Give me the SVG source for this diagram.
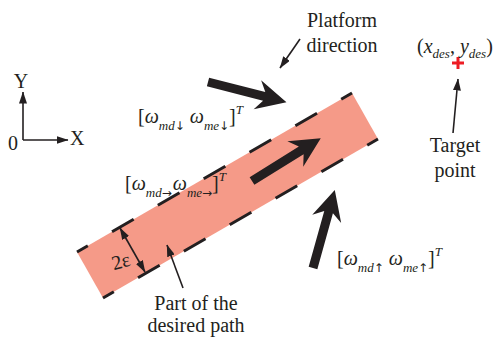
<svg xmlns="http://www.w3.org/2000/svg" xmlns:xlink="http://www.w3.org/1999/xlink" width="498" height="339" viewBox="0 0 498 339">
<style>
text{font-family:"Liberation Serif","Times New Roman",serif;fill:#231f20;font-size:20px}
.it{font-style:italic}
.sub{font-size:13px;font-style:italic}
.ar{font-size:12px;font-style:normal;font-family:"DejaVu Sans",sans-serif}
.thin{stroke:#231f20;stroke-width:1.6;fill:none}
.dash{stroke:#231f20;stroke-width:3;fill:none;stroke-dasharray:25 27.95;stroke-dashoffset:12.5}
</style>
<defs>
<marker id="ah" viewBox="0 0 12 8" markerWidth="12" markerHeight="8" refX="11.5" refY="4" markerUnits="userSpaceOnUse" orient="auto-start-reverse">
<path d="M0,0 L12,4 L0,8 z" fill="#231f20"/>
</marker>
<path id="big" d="M0,-4.5 L58,-4.5 L51,-15 L81,0 L51,15 L58,4.5 L0,4.5 z" fill="#231f20"/>
</defs>
<g id="path-band">
<polygon points="77,252 352,93 378,139 103,298" fill="#f59a88"/>
<line class="dash" x1="77" y1="252" x2="352" y2="93"/>
<line class="dash" x1="103" y1="298" x2="378" y2="139"/>
</g>
<g id="axes">
<line class="thin" x1="23" y1="140" x2="23" y2="92" marker-end="url(#ah)"/>
<line class="thin" x1="23" y1="140" x2="68" y2="140" marker-end="url(#ah)"/>
<text x="21" y="88" text-anchor="middle">Y</text>
<text x="70" y="145">X</text>
<text x="8" y="150">0</text>
</g>
<g id="target">
<path d="M452,63 H464 M458,57 V69" stroke="#ed1c24" stroke-width="3"/>
<text x="417" y="53">(<tspan class="it">x</tspan><tspan class="sub" dy="5">des</tspan><tspan dy="-5">, </tspan><tspan class="it">y</tspan><tspan class="sub" dy="5">des</tspan><tspan dy="-5">)</tspan></text>
<text x="455" y="152" text-anchor="middle">Target</text>
<text x="455" y="177" text-anchor="middle">point</text>
</g>
<g id="platform-label">
<text x="342" y="27" text-anchor="middle">Platform</text>
<text x="342" y="52" text-anchor="middle">direction</text>
</g>
<g id="path-label">
<text x="196" y="310" text-anchor="middle">Part of the</text>
<text x="196" y="332" text-anchor="middle">desired path</text>
</g>
<g id="eps-label">
<text x="121" y="268" text-anchor="middle" font-size="19" transform="rotate(-15 121 262)">2ε</text>
</g>
<g id="arrow-down">
<use xlink:href="#big" transform="translate(208,82) rotate(14.4)"/>
<text x="138" y="123">[<tspan class="it">ω</tspan><tspan class="sub" dy="7">md<tspan class="ar">↓</tspan></tspan><tspan dy="-7"> </tspan><tspan class="it">ω</tspan><tspan class="sub" dy="7">me<tspan class="ar">↓</tspan></tspan><tspan dy="-7">]</tspan><tspan class="sub" dy="-9">T</tspan></text>
</g>
<g id="arrow-right">
<use xlink:href="#big" transform="translate(252,181) rotate(-31.9)"/>
<text x="125" y="190">[<tspan class="it">ω</tspan><tspan class="sub" dy="7">md<tspan class="ar">→</tspan></tspan><tspan class="it" dy="-7" dx="1">ω</tspan><tspan class="sub" dy="7">me<tspan class="ar">→</tspan></tspan><tspan dy="-7">]</tspan><tspan class="sub" dy="-9">T</tspan></text>
</g>
<g id="arrow-up">
<use xlink:href="#big" transform="translate(313,268) rotate(-74.4)"/>
<text x="337" y="265">[<tspan class="it">ω</tspan><tspan class="sub" dy="7">md<tspan class="ar">↑</tspan></tspan><tspan dy="-7"> </tspan><tspan class="it">ω</tspan><tspan class="sub" dy="7">me<tspan class="ar">↑</tspan></tspan><tspan dy="-7">]</tspan><tspan class="sub" dy="-9">T</tspan></text>
</g>
<g id="connectors">
<line class="thin" x1="300" y1="39" x2="280" y2="68" marker-end="url(#ah)"/>
<line class="thin" x1="453" y1="133" x2="458" y2="79" marker-end="url(#ah)"/>
<line class="thin" x1="183" y1="288" x2="167" y2="245" marker-end="url(#ah)"/>
<line class="thin" x1="120" y1="228" x2="145" y2="272" marker-start="url(#ah)" marker-end="url(#ah)"/>
</g>
</svg>
